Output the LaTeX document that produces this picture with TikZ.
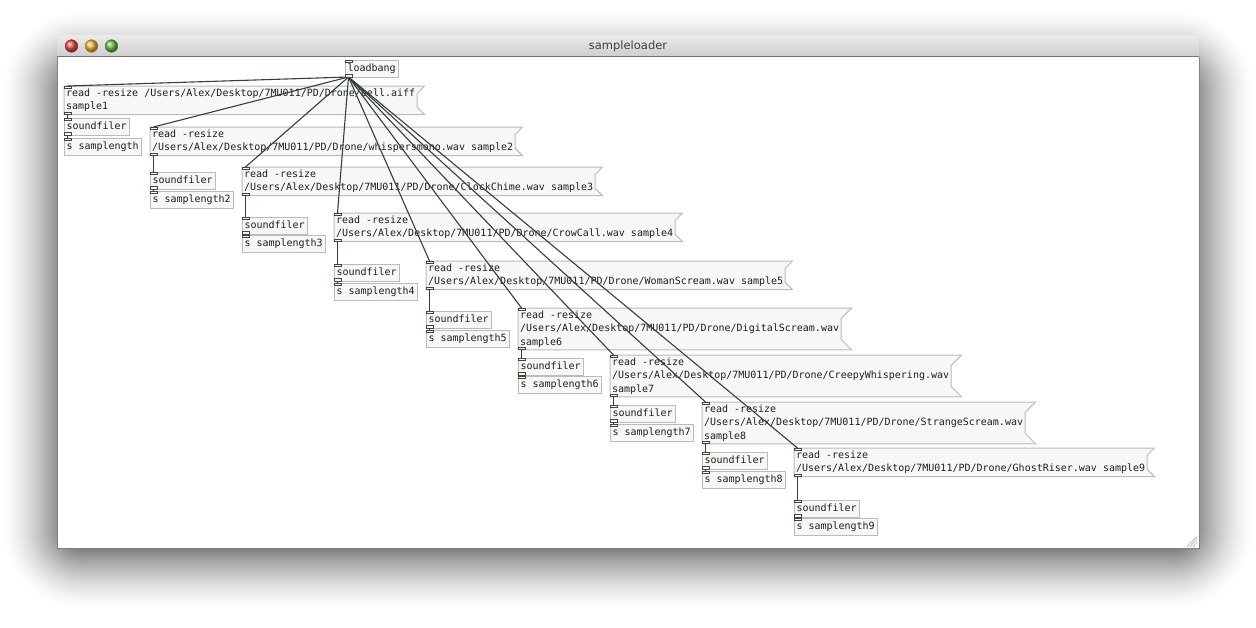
\documentclass[tikz,border=0pt]{standalone}
\usepackage{fontspec}
\setmonofont{DejaVu Sans Mono}
\newfontfamily\titlefont{DejaVu Sans}
\usetikzlibrary{calc}
\pgfdeclarelayer{back}
\pgfdeclarelayer{bg}
\pgfsetlayers{back,bg,main}
\definecolor{boxfill}{HTML}{F7F7F5}
\definecolor{boxline}{HTML}{BBBBBB}
\definecolor{wirecol}{HTML}{34403A}
\definecolor{iocol}{HTML}{3C4A3C}
\tikzset{
  x=1pt, y=-1pt,
  pdtext/.style={font=\ttfamily\fontsize{10}{13.3}\selectfont, text=black!88},
  obj/.style={pdtext, anchor=north west, draw=boxline, fill=boxfill, line width=1pt,
    inner xsep=2.5pt, inner ysep=0pt, minimum height=17pt, text height=7.5pt, text depth=2.3pt, outer sep=0pt},
  msg/.style={pdtext, anchor=north west, align=left, inner xsep=2pt, inner ysep=2.8pt, outer sep=0pt},
  msgbox/.style={draw=boxline, fill=boxfill, line width=1pt},
  port/.style={draw=iocol, fill=boxfill, line width=0.8pt},
  wire/.style={draw=wirecol, line width=1.1pt},
}
\begin{document}
\begin{tikzpicture}
\useasboundingbox (0,0) rectangle (1256,627);
\begin{pgfonlayer}{back}
\fill[white] (0,0) rectangle (1256,627);
% soft window shadow, opaque bands from outside in
\foreach \e in {54,53,...,-10}{
  \pgfmathsetmacro\p{55*(1-(\e+10)/65)^1.5}
  \pgfmathsetmacro\r{\e+25}
  \fill[black!\p, rounded corners=\r pt] ({57-(\e)},{65-(\e)}) rectangle ({1199+\e},{555+\e});
}
\shade[top color=black!8, bottom color=black!22, rounded corners=4pt] (57,35) rectangle (1199,62);
\fill[white] (57,56.5) rectangle (1199,548);
\draw[black!55, line width=0.8pt] (57,56.5) -- (1199,56.5);
\draw[black!50, line width=0.8pt] (57,56.5) -- (57,548) -- (1199,548) -- (1199,56.5);
\node[font=\titlefont\fontsize{11.5}{13}\selectfont, text=black!75] (title) at (628,46) {sampleloader};
\shade[ball color={rgb,255:red,236;green,82;blue,72}, draw={rgb,255:red,160;green,50;blue,45}, line width=0.5pt] (71.5,46) circle (6.3);
\shade[ball color={rgb,255:red,246;green,188;blue,62}, draw={rgb,255:red,175;green,125;blue,40}, line width=0.5pt] (91.5,46) circle (6.3);
\shade[ball color={rgb,255:red,112;green,196;blue,78}, draw={rgb,255:red,70;green,135;blue,50}, line width=0.5pt] (111.5,46) circle (6.3);
\foreach \d in {0,3,6}{
  \draw[black!45, line width=0.7pt, dash pattern=on 1pt off 0.6pt] (1187+\d,546.5) -- (1197,536.5+\d);
}
\end{pgfonlayer}

% objects
\node[obj] (lb) at (345,60) {loadbang};

\node[msg] (m1) at (64,86) {read -resize /Users/Alex/Desktop/7MU011/PD/Drone/bell.aiff\\sample1};
\node[obj] (sf1) at (64,118) {soundfiler};
\node[obj] (sl1) at (64,138) {s samplength};

\node[msg] (m2) at (150,127) {read -resize\\/Users/Alex/Desktop/7MU011/PD/Drone/whispersmono.wav sample2};
\node[obj] (sf2) at (150,172) {soundfiler};
\node[obj] (sl2) at (150,191) {s samplength2};

\node[msg] (m3) at (242,167) {read -resize\\/Users/Alex/Desktop/7MU011/PD/Drone/ClockChime.wav sample3};
\node[obj] (sf3) at (242,217) {soundfiler};
\node[obj] (sl3) at (242,235) {s samplength3};

\node[msg] (m4) at (334,213) {read -resize\\/Users/Alex/Desktop/7MU011/PD/Drone/CrowCall.wav sample4};
\node[obj] (sf4) at (334,264) {soundfiler};
\node[obj] (sl4) at (334,283) {s samplength4};

\node[msg] (m5) at (426,261) {read -resize\\/Users/Alex/Desktop/7MU011/PD/Drone/WomanScream.wav sample5};
\node[obj] (sf5) at (426,311) {soundfiler};
\node[obj] (sl5) at (426,330) {s samplength5};

\node[msg] (m6) at (518,308) {read -resize\\/Users/Alex/Desktop/7MU011/PD/Drone/DigitalScream.wav\\sample6};
\node[obj] (sf6) at (518,358) {soundfiler};
\node[obj] (sl6) at (518,376) {s samplength6};

\node[msg] (m7) at (610,355) {read -resize\\/Users/Alex/Desktop/7MU011/PD/Drone/CreepyWhispering.wav\\sample7};
\node[obj] (sf7) at (610,405) {soundfiler};
\node[obj] (sl7) at (610,424) {s samplength7};

\node[msg] (m8) at (702,402) {read -resize\\/Users/Alex/Desktop/7MU011/PD/Drone/StrangeScream.wav\\sample8};
\node[obj] (sf8) at (702,452) {soundfiler};
\node[obj] (sl8) at (702,471) {s samplength8};

\node[msg] (m9) at (794,448) {read -resize\\/Users/Alex/Desktop/7MU011/PD/Drone/GhostRiser.wav sample9};
\node[obj] (sf9) at (794,500) {soundfiler};
\node[obj] (sl9) at (794,518) {s samplength9};

% message box outlines (flag shape)
\begin{pgfonlayer}{bg}
\foreach \m/\c in {m1/7.3,m2/7.3,m3/7.3,m4/7.3,m5/7.3,m6/10.5,m7/10.5,m8/10.5,m9/7.3}{
  \draw[msgbox] (\m.north west) -- ([xshift=\c pt]\m.north east) -- ([yshift=-\c pt]\m.north east)
    -- ([yshift=\c pt]\m.south east) -- ([xshift=\c pt]\m.south east) -- (\m.south west) -- cycle;
}
\end{pgfonlayer}

% connections
\foreach \i in {1,...,9}{
  \draw[wire] ([xshift=3.5pt]lb.south west) -- ([xshift=3.5pt]m\i.north west);
  \draw[wire] ([xshift=3.5pt]m\i.south west) -- ([xshift=3.5pt]sf\i.north west);
  \draw[wire] ([xshift=3.5pt]sf\i.south west) -- ([xshift=3.5pt]sl\i.north west);
}

% inlets and outlets
\foreach \n in {lb,m1,m2,m3,m4,m5,m6,m7,m8,m9,sf1,sf2,sf3,sf4,sf5,sf6,sf7,sf8,sf9}{
  \draw[port] (\n.south west) rectangle ++(7.5,-2.5);
}
\foreach \n in {lb,m1,m2,m3,m4,m5,m6,m7,m8,m9,sf1,sf2,sf3,sf4,sf5,sf6,sf7,sf8,sf9,sl1,sl2,sl3,sl4,sl5,sl6,sl7,sl8,sl9}{
  \draw[port] (\n.north west) rectangle ++(7.5,2.5);
}
\end{tikzpicture}
\end{document}
